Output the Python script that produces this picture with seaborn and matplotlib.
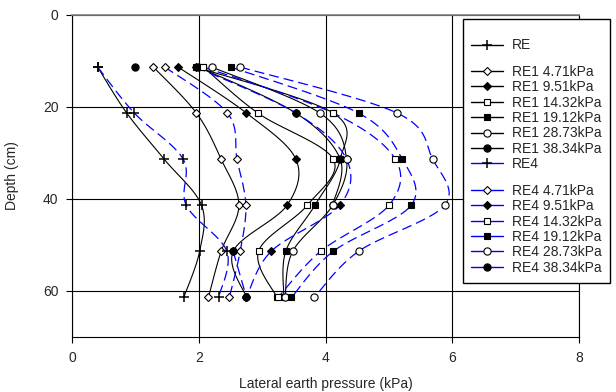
import numpy as np
import matplotlib
matplotlib.use('Agg')
import matplotlib.pyplot as plt
from matplotlib.lines import Line2D
import seaborn as sns

sns.set_style('white')
plt.rcParams['font.family'] = ['Liberation Sans', 'DejaVu Sans']

# depth of the measuring points (cm)
depth = [11.4, 21.4, 31.4, 41.4, 51.4, 61.4]

# lateral earth pressure (kPa)
re_base = [0.40, 0.86, 1.45, 2.04, 2.01, 1.76]
re1_471 = [1.28, 1.96, 2.35, 2.63, 2.35, 2.15]
re1_951 = [1.67, 2.75, 3.53, 3.39, 2.54, 2.75]
re1_1432 = [2.07, 2.93, 4.12, 3.71, 2.94, 3.23]
re1_1912 = [1.95, 4.12, 4.23, 3.83, 3.37, 3.34]
re1_2873 = [2.20, 3.91, 4.33, 4.11, 3.48, 3.36]
re1_3834 = [1.99, 3.53, 4.23, 4.11, np.nan, np.nan]

re4_base = [0.40, 0.98, 1.75, 1.80, 2.44, 2.31]
re4_471 = [1.46, 2.45, 2.60, 2.74, 2.65, 2.48]
re4_951 = [1.95, 3.53, 4.33, 4.22, 3.14, 2.75]
re4_1432 = [2.07, 4.12, 5.10, 5.00, 3.92, 3.25]
re4_1912 = [2.50, 4.52, 5.21, 5.35, 4.12, 3.46]
re4_2873 = [2.65, 5.13, 5.69, 5.88, 4.52, 3.82]
re4_3834 = [0.99, np.nan, np.nan, np.nan, 2.54, 2.75]

surcharges = ['4.71kPa', '9.51kPa', '14.32kPa', '19.12kPa', '28.73kPa', '38.34kPa']
re1_series = [re1_471, re1_951, re1_1432, re1_1912, re1_2873, re1_3834]
re4_series = [re4_471, re4_951, re4_1432, re4_1912, re4_2873, re4_3834]

marker_styles = [
    dict(marker='D', ms=4.3, mfc='white'),
    dict(marker='D', ms=4.3, mfc='black'),
    dict(marker='s', ms=4.6, mfc='white'),
    dict(marker='s', ms=4.6, mfc='black'),
    dict(marker='o', ms=5.2, mfc='white'),
    dict(marker='o', ms=5.2, mfc='black'),
]
plus_style = dict(marker='+', ms=7, mew=1.1)

# series table: label, values, line colour, line style, marker style
series = [('RE', re_base, 'black', '-', plus_style)]
for s, vals, st in zip(surcharges, re1_series, marker_styles):
    series.append(('RE1 ' + s, vals, 'black', '-', st))
series.append(('RE4', re4_base, 'blue', (0, (8, 4)), plus_style))
for s, vals, st in zip(surcharges, re4_series, marker_styles):
    series.append(('RE4 ' + s, vals, 'blue', (0, (8, 4)), st))

# order in which the markers are stacked
marker_order = ['RE', 'RE1 4.71kPa', 'RE1 9.51kPa', 'RE4 9.51kPa', 'RE1 38.34kPa',
                'RE1 14.32kPa', 'RE1 19.12kPa', 'RE1 28.73kPa', 'RE4', 'RE4 4.71kPa',
                'RE4 14.32kPa', 'RE4 19.12kPa', 'RE4 28.73kPa', 'RE4 38.34kPa']


def smooth(xs, ys, n=24):
    # Excel-like smoothed line (cubic Bezier through the points)
    p = np.column_stack([xs, ys])
    if len(p) < 2:
        return p[:, 0], p[:, 1]
    ext = np.vstack([p[0], p, p[-1]])
    t = np.linspace(0, 1, n, endpoint=False)[:, None]
    out = []
    for i in range(len(p) - 1):
        p0, p1, p2, p3 = ext[i], ext[i + 1], ext[i + 2], ext[i + 3]
        c1 = p1 + (p2 - p0) / 6
        c2 = p2 - (p3 - p1) / 6
        out.append((1 - t) ** 3 * p1 + 3 * (1 - t) ** 2 * t * c1
                   + 3 * (1 - t) * t ** 2 * c2 + t ** 3 * p2)
    out.append(p[-1:])
    out = np.vstack(out)
    return out[:, 0], out[:, 1]


fig = plt.figure(figsize=(6.16, 3.92), dpi=100)
ax = fig.add_axes([72.3 / 616, 1 - 337 / 392, (579 - 72.3) / 616, (337 - 14.5) / 392])

# lines
for label, vals, color, ls, st in series:
    v = np.asarray(vals, dtype=float)
    d = np.asarray(depth, dtype=float)
    ok = ~np.isnan(v)
    # split into runs of consecutive valid points
    runs, cur = [], []
    for i in range(len(v)):
        if ok[i]:
            cur.append(i)
        else:
            if cur:
                runs.append(cur)
            cur = []
    if cur:
        runs.append(cur)
    for r in runs:
        if len(r) < 2:
            continue
        sx, sy = smooth(v[r], d[r])
        sns.lineplot(x=sx, y=sy, sort=False, estimator=None, ax=ax, color=color,
                     linestyle=ls, lw=0.8 if color == 'black' else 0.9, legend=False, zorder=2)

# markers
lookup = {s[0]: s for s in series}
for z, name in enumerate(marker_order):
    label, vals, color, ls, st = lookup[name]
    ax.plot(vals, depth, ls='none', color='black', mec='black', mew=st.get('mew', 0.8),
            marker=st['marker'], ms=st['ms'], mfc=st.get('mfc', 'black'), zorder=3 + z * 0.01)

ax.set_xlim(0, 8)
ax.set_ylim(70, 0)
ax.set_xticks([0, 2, 4, 6, 8])
ax.set_yticks([0, 20, 40, 60])
ax.grid(True, color='black', lw=0.8)
ax.set_axisbelow(True)
for sp in ax.spines.values():
    sp.set_color('black')
    sp.set_linewidth(0.8)
ax.spines['top'].set_color('#808080')
ax.spines['top'].set_linewidth(1.2)
ax.tick_params(bottom=True, left=True, direction='out', length=4, width=0.8,
               color='black', labelsize=10, pad=6)
ax.set_xlabel('Lateral earth pressure (kPa)', fontsize=10, labelpad=9)
ax.set_ylabel('Depth (cm)', fontsize=10, labelpad=17)

# legend
handles, labels = [], []
blank = Line2D([], [], color='none')
handles.append(blank); labels.append('')
for label, vals, color, ls, st in series:
    h = Line2D([], [], color=color, lw=1.0, marker=st['marker'], ms=st['ms'],
               mfc=st.get('mfc', 'black'), mec='black', mew=st.get('mew', 0.8))
    handles.append(h)
    labels.append(label)
    if label in ('RE', 'RE4'):
        handles.append(blank); labels.append('')
leg = fig.legend(handles, labels, loc='upper left', bbox_to_anchor=(463 / 616, 1 - 19 / 392),
                 frameon=True, fancybox=False, edgecolor='black', framealpha=1, fontsize=10,
                 handlelength=2.25, handletextpad=0.65, labelspacing=0.1, borderpad=0.6,
                 borderaxespad=0)
leg.get_frame().set_linewidth(1.0)
for txt in leg.get_texts():
    if txt.get_text() == '':
        txt.set_fontsize(1.5)

fig.savefig('out.png', dpi=100)
